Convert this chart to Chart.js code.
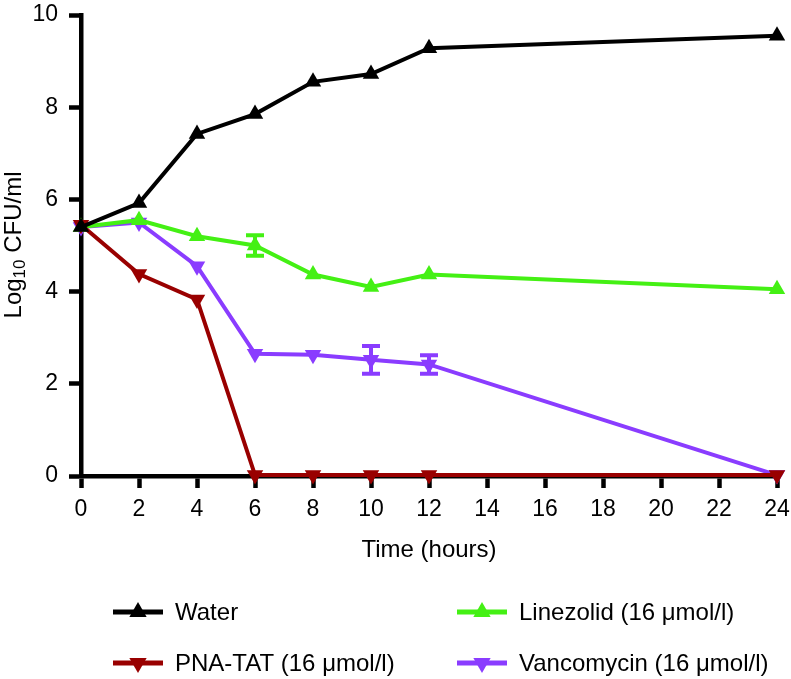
<!DOCTYPE html>
<html>
<head>
<meta charset="utf-8">
<script src="https://cdn.jsdelivr.net/npm/chart.js@4/dist/chart.umd.min.js"></script>
<style>
  html, body { margin: 0; padding: 0; background: #fff; }
  #wrap { width: 791px; height: 679px; position: relative; }
</style>
</head>
<body>
<div id="wrap"><canvas id="chart" width="791" height="679"></canvas></div>
<script>
const hours = [0, 2, 4, 6, 8, 10, 12, 24];
const xTicks = [0, 2, 4, 6, 8, 10, 12, 14, 16, 18, 20, 22, 24];
const yTicks = [0, 2, 4, 6, 8, 10];

const waterValues = [5.4, 5.92, 7.42, 7.85, 8.55, 8.72, 9.28, 9.55];
const pnaTatValues = [5.45, 4.38, 3.83, 0.02, 0.02, 0.02, 0.02, 0.02];
const linezolidValues = [5.4, 5.55, 5.2, 5.0, 4.37, 4.1, 4.37, 4.05];
const vancomycinValues = [5.4, 5.5, 4.55, 2.65, 2.63, 2.52, 2.42, 0.02];

const linezolidErr = [0, 0, 0, 0.22, 0, 0, 0, 0];
const vancomycinErr = [0, 0, 0, 0, 0, 0.3, 0.2, 0];

const seriesNames = ["Water", "PNA-TAT (16 \u03bcmol/l)", "Linezolid (16 \u03bcmol/l)", "Vancomycin (16 \u03bcmol/l)"];
const seriesColors = ["#000000", "#990000", "#44f014", "#8a3cff"];

const fontFamily = "'Liberation Sans', Arial, Helvetica, sans-serif";

function toPoints(values) {
  return values.map((v, i) => ({ x: hours[i], y: v }));
}

function makeDataset(index, values, up, errors) {
  return {
    label: seriesNames[index],
    data: toPoints(values),
    errors: errors || null,
    borderColor: seriesColors[index],
    backgroundColor: seriesColors[index],
    borderWidth: 4,
    pointStyle: "triangle",
    pointRotation: up ? 0 : 180,
    pointRadius: 9.5,
    pointHoverRadius: 9.5,
    pointBorderWidth: 0,
    tension: 0,
    clip: false,
  };
}

// error bars, drawn on top of each series' own points
const errorBars = {
  id: "errorBars",
  afterDatasetDraw(chart, args) {
    const ds = chart.data.datasets[args.index];
    if (!ds.errors) return;
    const { ctx, scales } = chart;
    ctx.save();
    ctx.strokeStyle = ds.borderColor;
    ctx.lineWidth = 4;
    ds.data.forEach((p, i) => {
      const e = ds.errors[i];
      if (!e) return;
      const x = scales.x.getPixelForValue(p.x);
      const top = scales.y.getPixelForValue(p.y + e);
      const bottom = scales.y.getPixelForValue(p.y - e);
      ctx.beginPath();
      ctx.moveTo(x, top);
      ctx.lineTo(x, bottom);
      ctx.moveTo(x - 9, top);
      ctx.lineTo(x + 9, top);
      ctx.moveTo(x - 9, bottom);
      ctx.lineTo(x + 9, bottom);
      ctx.stroke();
    });
    ctx.restore();
  },
};

function drawTriangle(ctx, x, y, r, up) {
  const s = up ? 1 : -1;
  ctx.beginPath();
  ctx.moveTo(x, y - s * r);
  ctx.lineTo(x + r * Math.sin(Math.PI / 3), y + s * r * 0.5);
  ctx.lineTo(x - r * Math.sin(Math.PI / 3), y + s * r * 0.5);
  ctx.closePath();
  ctx.fill();
}

// axis titles and the two-column legend
const annotations = {
  id: "annotations",
  afterDraw(chart) {
    const ctx = chart.ctx;
    ctx.save();
    ctx.fillStyle = "#000";
    ctx.textBaseline = "middle";

    ctx.font = "24px " + fontFamily;
    ctx.textAlign = "center";
    ctx.fillText("Time (hours)", 429, 550);

    // y title with subscript
    ctx.translate(14, 245);
    ctx.rotate(-Math.PI / 2);
    const parts = [["Log", 24, 0], ["10", 17, 6], [" CFU/ml", 24, 0]];
    let total = 0;
    parts.forEach(([t, size]) => {
      ctx.font = size + "px " + fontFamily;
      total += ctx.measureText(t).width;
    });
    let cx = -total / 2;
    ctx.textAlign = "left";
    parts.forEach(([t, size, dy]) => {
      ctx.font = size + "px " + fontFamily;
      ctx.fillText(t, cx, dy);
      cx += ctx.measureText(t).width;
    });
    ctx.restore();

    const items = [
      { i: 0, up: true, x: 113, y: 612 },
      { i: 2, up: true, x: 457, y: 612 },
      { i: 1, up: false, x: 113, y: 663 },
      { i: 3, up: false, x: 457, y: 663 },
    ];
    ctx.save();
    ctx.font = "24px " + fontFamily;
    ctx.textBaseline = "middle";
    ctx.textAlign = "left";
    items.forEach((it) => {
      const color = seriesColors[it.i];
      ctx.strokeStyle = color;
      ctx.fillStyle = color;
      ctx.lineWidth = 5;
      ctx.beginPath();
      ctx.moveTo(it.x, it.y);
      ctx.lineTo(it.x + 50, it.y);
      ctx.stroke();
      drawTriangle(ctx, it.x + 25, it.y, 10, it.up);
      ctx.fillStyle = "#000";
      ctx.fillText(seriesNames[it.i], it.x + 62, it.y + 1);
    });
    ctx.restore();
  },
};

const axisStyle = {
  border: { display: true, color: "#000", width: 4.5 },
  grid: {
    drawOnChartArea: false,
    drawTicks: true,
    tickLength: 12,
    tickWidth: 4.5,
    tickColor: "#000",
    color: "#000",
  },
};

new Chart(document.getElementById("chart"), {
  type: "line",
  data: {
    datasets: [
      makeDataset(0, waterValues, true),
      makeDataset(1, pnaTatValues, false),
      makeDataset(2, linezolidValues, true, linezolidErr),
      makeDataset(3, vancomycinValues, false, vancomycinErr),
    ],
  },
  options: {
    responsive: false,
    animation: false,
    events: [],
    layout: { padding: { top: 15, right: 14, left: 0, bottom: 0 } },
    plugins: { legend: { display: false }, tooltip: { enabled: false } },
    scales: {
      x: {
        type: "linear",
        min: 0,
        max: 24,
        ...axisStyle,
        afterBuildTicks: (s) => { s.ticks = xTicks.map((v) => ({ value: v })); },
        afterFit: (s) => {
          s.height = 203;
          s.paddingLeft = 0;
          s.paddingRight = 0;
        },
        ticks: { color: "#000", padding: 8, maxRotation: 0, autoSkip: false, font: { family: fontFamily, size: 23 } },
      },
      y: {
        min: 0,
        max: 10,
        ...axisStyle,
        afterBuildTicks: (s) => { s.ticks = yTicks.map((v) => ({ value: v })); },
        afterFit: (s) => {
          s.width = 81;
          s.paddingTop = 0;
          s.paddingBottom = 0;
        },
        ticks: { color: "#000", padding: 11, font: { family: fontFamily, size: 23 } },
      },
    },
  },
  plugins: [errorBars, annotations],
});
</script>
</body>
</html>
